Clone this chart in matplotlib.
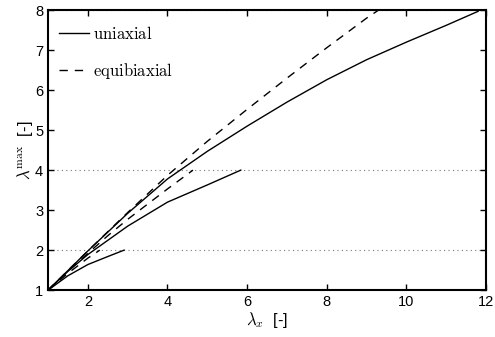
import matplotlib
matplotlib.use("Agg")
import matplotlib.pyplot as plt

plt.rcParams['font.family'] = ['Liberation Sans', 'DejaVu Sans']
plt.rcParams['mathtext.fontset'] = 'cm'

# chain limit values (dotted reference lines)
lam_max = [2, 4, 8]

# uniaxial curves (solid), one per chain limit
uni_x = [
    [1.0, 1.5, 2.0, 2.5, 2.91],
    [1.0, 1.5, 2.0, 3.0, 4.0, 5.0, 5.84],
    [1.0, 2.0, 3.0, 4.0, 5.0, 6.0, 7.0, 8.0, 9.0, 10.0, 11.0, 11.8],
]
uni_y = [
    [1.0, 1.36, 1.64, 1.84, 2.0],
    [1.0, 1.47, 1.89, 2.6, 3.2, 3.63, 4.0],
    [1.0, 1.98, 2.92, 3.78, 4.47, 5.1, 5.7, 6.26, 6.76, 7.2, 7.62, 7.97],
]

# equibiaxial curves (dashed)
equi_x = [
    [1.0, 1.5, 2.0, 2.3],
    [1.0, 1.5, 2.0, 2.5, 3.0, 3.5, 4.0, 4.64],
    [1.0, 2.0, 3.0, 4.0, 5.0, 6.0, 7.0, 8.0, 9.0, 9.3],
]
equi_y = [
    [1.0, 1.42, 1.8, 2.0],
    [1.0, 1.47, 1.92, 2.36, 2.77, 3.15, 3.53, 4.0],
    [1.0, 1.98, 2.94, 3.87, 4.72, 5.52, 6.3, 7.06, 7.8, 8.0],
]

fig = plt.figure(figsize=(4.95, 3.37), dpi=100)
ax = fig.add_axes([0.097, 0.139, 0.885, 0.831])

for v in lam_max:
    ax.axhline(v, color='#777777', linestyle=(0, (1, 3)), linewidth=0.8, zorder=1)

for i in range(len(uni_x)):
    ax.plot(uni_x[i], uni_y[i], color='black', linewidth=1.0,
            label=r'$\mathrm{uniaxial}$' if i == 0 else None)
for i in range(len(equi_x)):
    ax.plot(equi_x[i], equi_y[i], color='black', linewidth=1.0, linestyle=(0, (6, 5)),
            label=r'$\mathrm{equibiaxial}$' if i == 0 else None)

ax.set_xlim(1, 12)
ax.set_ylim(1, 8)
ax.set_xticks([2, 4, 6, 8, 10, 12])
ax.set_yticks([1, 2, 3, 4, 5, 6, 7, 8])
ax.tick_params(direction='in', top=True, right=True, labelsize=10.5, length=4, width=1)
for s in ax.spines.values():
    s.set_linewidth(1.5)

ax.set_xlabel(r'$\lambda_x$  [-]', fontsize=12, labelpad=1)
ax.set_ylabel(r'$\lambda^{\max}$  [-]', fontsize=12, labelpad=0)

leg = ax.legend(loc='upper left', bbox_to_anchor=(0.0, 0.987), frameon=False,
                fontsize=12, handlelength=1.8, labelspacing=1.15,
                borderaxespad=0.25, handletextpad=0.25)

fig.savefig('out.png', dpi=100)
